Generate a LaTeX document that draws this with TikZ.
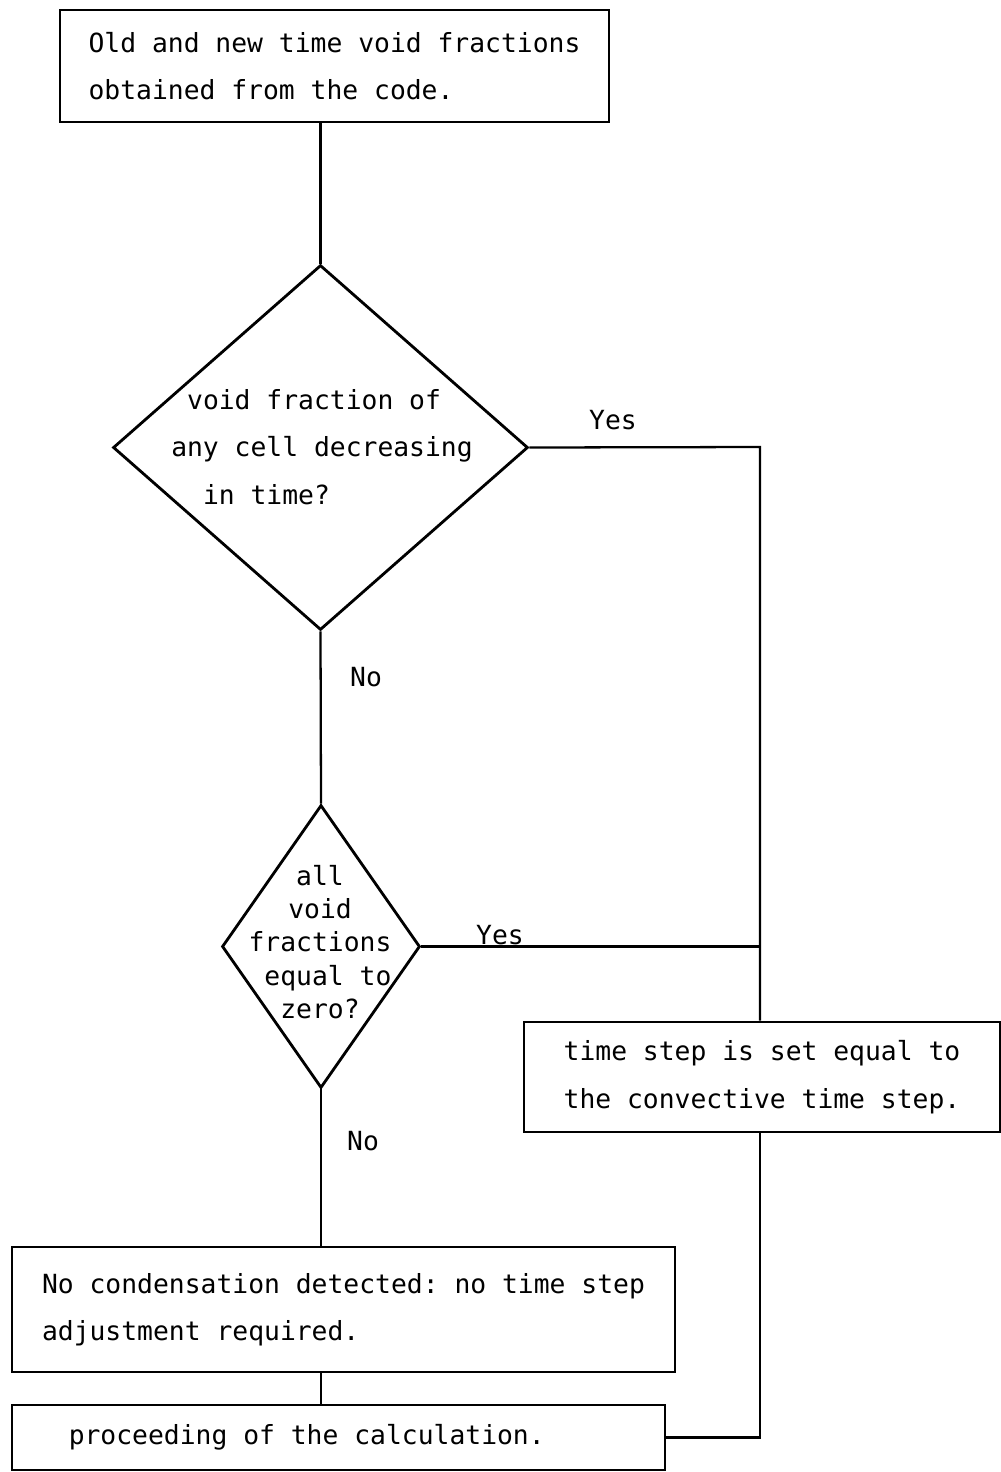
\documentclass[tikz,border=0pt]{standalone}
\usepackage{fontspec}
\setmonofont{DejaVu Sans Mono}
\usetikzlibrary{shapes.geometric}

\begin{document}
\begin{tikzpicture}
  [x=0.02cm, y=-0.02cm,
   every node/.style={font=\ttfamily\fontsize{15}{27}\selectfont},
   box/.style={draw, line width=1.6pt, align=left, inner sep=0},
   decision/.style={draw, shape=diamond, line width=1.6pt, inner sep=0},
   smalltext/.style={align=center, font=\ttfamily\fontsize{15}{19}\selectfont},
   link/.style={line width=1.3pt}]

  \useasboundingbox (0,0) rectangle (1001,1472);

  \node[box, minimum width=10.98cm, minimum height=2.24cm] (start) at (334.5,66) {Old and new time void fractions\\obtained from the code.};
  \node[decision, minimum width=8.3cm, minimum height=7.3cm] (q1) at (320.5,447.5) {};
  \node[align=left] (q1text) at (322,447) {\phantom{v}void fraction of\\any cell decreasing\\\phantom{vv}in time?};
  \node[decision, minimum width=3.96cm, minimum height=5.66cm] (q2) at (321,946.5) {};
  \node[smalltext] (q2text) at (320,942) {all\\void\\fractions\\\phantom{e}equal to\\zero?};
  \node[box, minimum width=9.52cm, minimum height=2.2cm] (adjust) at (762,1077) {time step is set equal to\\the convective time step.};
  \node[box, minimum width=13.26cm, minimum height=2.5cm] (nocond) at (343.5,1309.5) {No condensation detected: no time step\\adjustment required.};
  \node[box, minimum width=13.06cm, minimum height=1.3cm] (proceed) at (338.5,1437.5) {proceeding of the calculation.\phantom{xxxx}};

  \coordinate (yes1) at (760,447);
  \coordinate (yes2) at (q2.east -| yes1);

  \node (yes1label) at (613,420) {Yes};
  \node (no1label) at (366,677) {No};
  \node (yes2label) at (500,935) {Yes};
  \node (no2label) at (363,1141) {No};

  \draw[link] (start.south -| q1.north) -- (q1.north);
  \draw[link] (q1.east) -- (yes1) -- (adjust.north -| yes1);
  \draw[link] (q1.south) -- (q2.north);
  \draw[link] (q2.east) -- (yes2);
  \draw[link] (q2.south) -- (q2.south |- nocond.north);
  \draw[link] (q2.south |- nocond.south) -- (q2.south |- proceed.north);
  \draw[link] (adjust.south -| yes1) -- (yes1 |- proceed.east) -- (proceed.east);

\end{tikzpicture}
\end{document}
